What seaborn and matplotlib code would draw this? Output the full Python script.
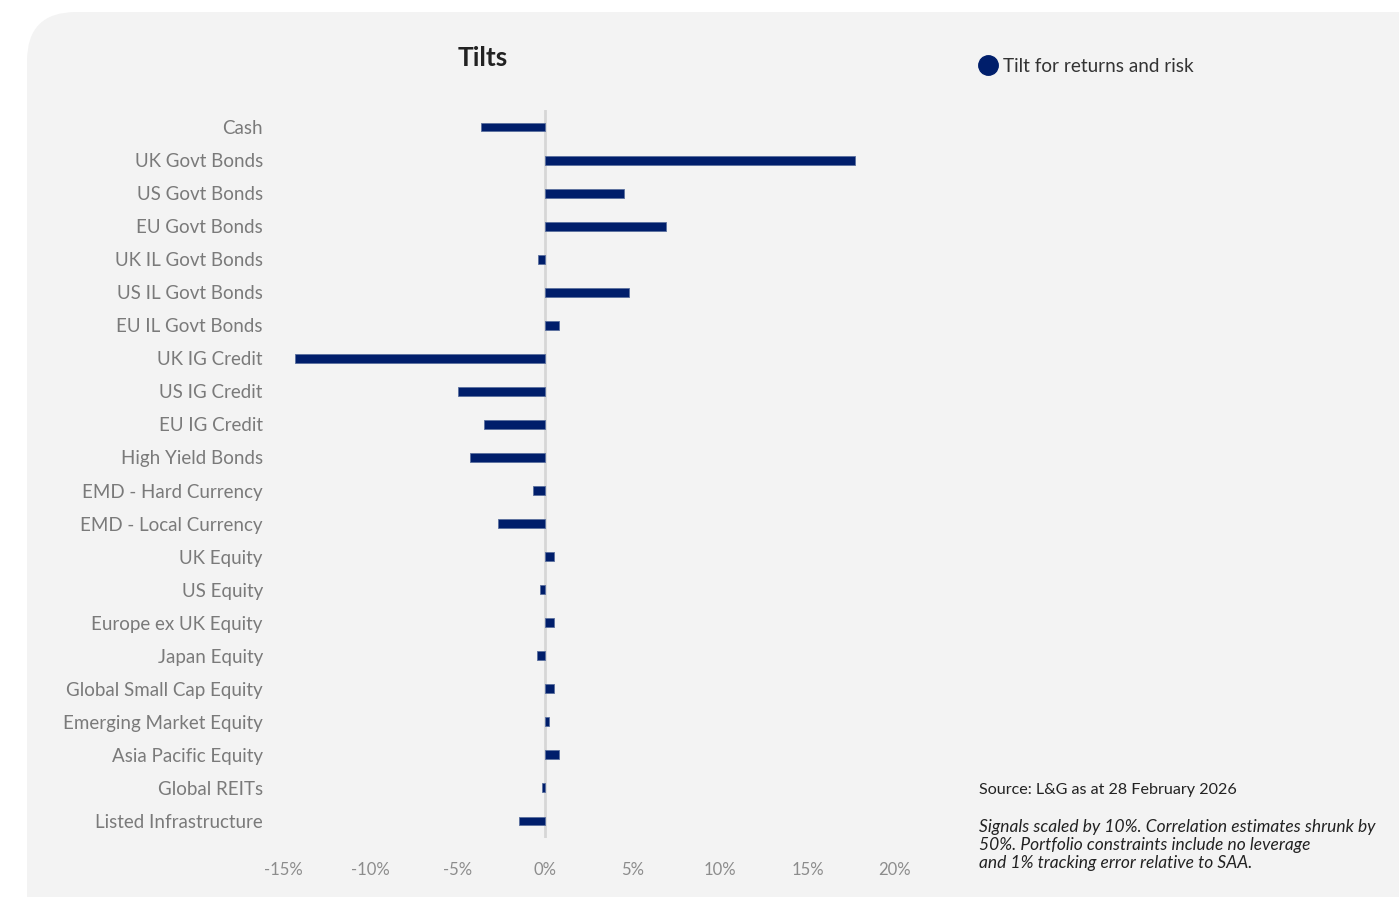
import matplotlib
matplotlib.use("Agg")
import matplotlib.pyplot as plt
from matplotlib.patches import FancyBboxPatch
from matplotlib.ticker import FuncFormatter
import seaborn as sns
import pandas as pd

categories = [
    "Cash", "UK Govt Bonds", "US Govt Bonds", "EU Govt Bonds", "UK IL Govt Bonds",
    "US IL Govt Bonds", "EU IL Govt Bonds", "UK IG Credit", "US IG Credit", "EU IG Credit",
    "High Yield Bonds", "EMD - Hard Currency", "EMD - Local Currency", "UK Equity",
    "US Equity", "Europe ex UK Equity", "Japan Equity", "Global Small Cap Equity",
    "Emerging Market Equity", "Asia Pacific Equity", "Global REITs", "Listed Infrastructure",
]
tilts = [
    -3.7, 17.7, 4.5, 6.9, -0.4,
    4.8, 0.8, -14.3, -5.0, -3.5,
    -4.3, -0.7, -2.7, 0.5,
    -0.3, 0.5, -0.5, 0.5,
    0.2, 0.8, -0.2, -1.5,
]
x_ticks = [-15, -10, -5, 0, 5, 10, 15, 20]
series_name = "Tilt for returns and risk"
title = "Tilts"
source_note = "Source: L&G as at 28 February 2026"
method_note = ("Signals scaled by 10%. Correlation estimates shrunk by\n"
               "50%. Portfolio constraints include no leverage\n"
               "and 1% tracking error relative to SAA.")

NAVY = "#001E6B"
PANEL = "#F3F3F3"

sns.set_theme(style="white")
plt.rcParams["font.family"] = ["Lato", "DejaVu Sans"]

W, H = 1399, 897
fig = plt.figure(figsize=(W / 100, H / 100), dpi=100)
fig.patch.set_facecolor("white")

# rounded light-grey panel behind everything
panel = FancyBboxPatch((27 / W, -0.2), 1.2, (H - 12) / H + 0.2,
                       boxstyle="round,pad=0,rounding_size=0.035",
                       transform=fig.transFigure, facecolor=PANEL,
                       edgecolor="none", zorder=-10, mutation_aspect=W / H)
fig.patches.append(panel)

left, right = 283 / W, 895 / W
top, bottom = 1 - 110.5 / H, 1 - 837.5 / H
ax = fig.add_axes([left, bottom, right - left, top - bottom])
ax.set_facecolor("none")
ax.set_zorder(5)

df = pd.DataFrame({"category": categories, "tilt": tilts})
sns.barplot(data=df, x="tilt", y="category", orient="h", color=NAVY,
            width=0.27, edgecolor="#5a6f9e", linewidth=0.6, saturation=1, ax=ax)

ax.axvline(0, color="#D6D6D6", linewidth=2, zorder=0)
ax.set_xlim(-15, 20)
ax.set_ylim(len(categories) - 0.5, -0.5)
ax.set_xticks(x_ticks)
ax.xaxis.set_major_formatter(FuncFormatter(lambda v, p: f"{v:.0f}%"))
ax.set_xlabel("")
ax.set_ylabel("")
for s in ax.spines.values():
    s.set_visible(False)
ax.tick_params(axis="y", length=0, pad=14.5, labelsize=13.5, labelcolor="#7A7A7A")
ax.tick_params(axis="x", length=0, pad=17.5, labelsize=12, labelcolor="#8C8C8C")

fig.text(483 / W, 1 - 58 / H, title, ha="center", va="center",
         fontsize=19, fontweight="bold", color="#222222", zorder=6)

# legend entry
fig.lines.append(plt.Line2D([988 / W], [1 - 65 / H], marker="o", markersize=14,
                            color=NAVY, linestyle="none", transform=fig.transFigure,
                            zorder=6))
fig.text(1003 / W, 1 - 66 / H, series_name, ha="left", va="center",
         fontsize=13.6, color="#333333", zorder=6)

fig.text(979 / W, 1 - 790 / H, source_note, ha="left", va="center",
         fontsize=11.6, color="#222222", zorder=6)
fig.text(979 / W, 1 - 819 / H, method_note, ha="left", va="top",
         fontsize=12.5, color="#222222", style="italic", linespacing=1.17, zorder=6)

fig.savefig("out.png", dpi=100)
